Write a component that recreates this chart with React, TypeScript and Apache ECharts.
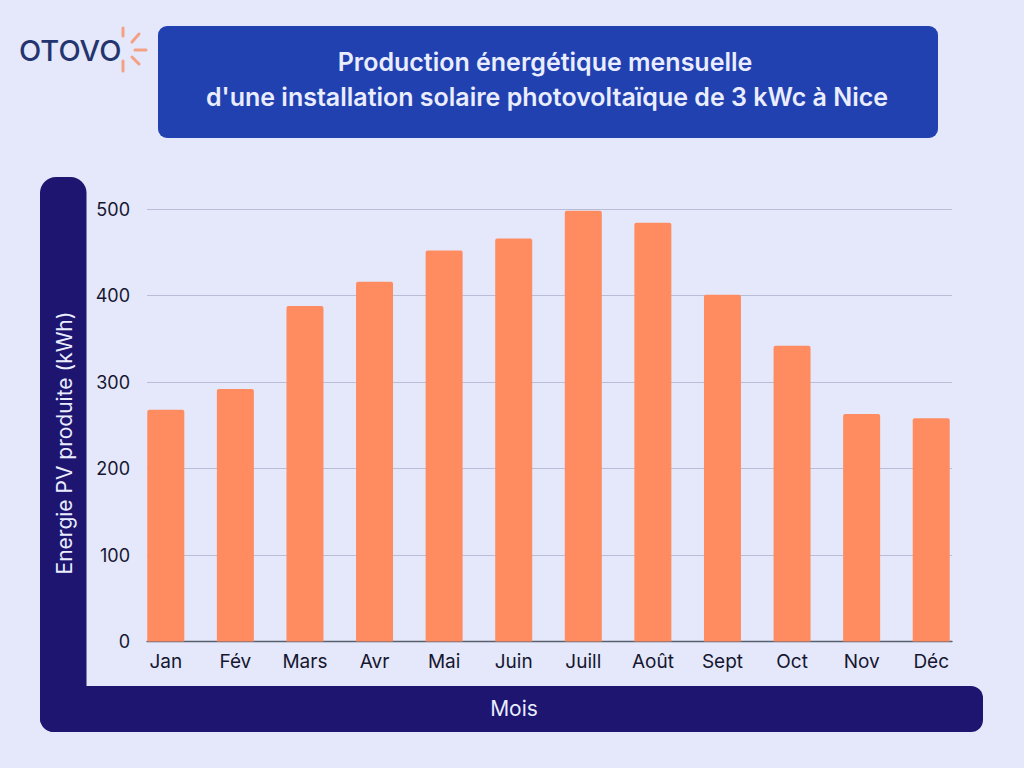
import React, { useEffect, useRef } from "react";
import * as echarts from "echarts";

const months = ["Jan", "Fév", "Mars", "Avr", "Mai", "Juin", "Juill", "Août", "Sept", "Oct", "Nov", "Déc"];
const production = [268, 292, 388, 416, 452, 466, 498, 484, 401, 342, 263, 258];
const yTicks = { min: 0, max: 500, interval: 100 };
const titleLine1 = "Production énergétique mensuelle";
const titleLine2 = "d'une installation solaire photovoltaïque de 3 kWc à Nice";
const yTitle = "Energie PV produite (kWh)";
const xTitle = "Mois";

const FONT = "Inter, 'Noto Sans', sans-serif";
const NAVY = "#1d1570";
const BAR = "#ff8c61";
const RAY = "#f3a085";

export default function App() {
  const ref = useRef<HTMLDivElement>(null);
  useEffect(() => {
    if (!ref.current) return;
    const chart = echarts.init(ref.current, undefined, { renderer: "svg" });
    const rayStyle = { stroke: RAY, lineWidth: 3, lineCap: "round" };
    chart.setOption({
      animation: false,
      backgroundColor: "#e4e8fa",
      textStyle: { fontFamily: FONT },
      grid: [
        { left: 131, right: 58, top: 209, bottom: 126.5 },
        { left: 147, right: 72, top: 209, bottom: 126.5 },
      ],
      xAxis: [
        {
          type: "category",
          gridIndex: 0,
          data: months,
          boundaryGap: true,
          axisLine: { show: false },
          axisTick: { show: false },
          axisLabel: { color: "#161630", fontSize: 19, margin: 10, fontFamily: FONT },
        },
        {
          type: "value",
          gridIndex: 1,
          min: 0,
          max: 1,
          axisLine: { show: true, lineStyle: { color: "#5a5f70", width: 1.3 } },
          axisTick: { show: false },
          axisLabel: { show: false },
          splitLine: { show: false },
        },
      ],
      yAxis: [
        {
          type: "value",
          gridIndex: 0,
          ...yTicks,
          axisLine: { show: false },
          axisTick: { show: false },
          axisLabel: { show: false },
          splitLine: { show: false },
        },
        {
          type: "value",
          gridIndex: 1,
          ...yTicks,
          axisLine: { show: false },
          axisTick: { show: false },
          axisLabel: { color: "#161630", fontSize: 18, margin: 17, fontFamily: FONT },
          splitLine: { show: true, lineStyle: { color: "#b9bdd6", width: 1.2 } },
        },
      ],
      series: [
        {
          type: "bar",
          xAxisIndex: 0,
          yAxisIndex: 0,
          data: production,
          barWidth: 37,
          itemStyle: { color: BAR, borderRadius: [2, 2, 0, 0] },
          z: 3,
        },
        {
          type: "line",
          xAxisIndex: 1,
          yAxisIndex: 1,
          data: [],
          silent: true,
        },
      ],
      graphic: [
        {
          type: "rect",
          shape: { x: 158, y: 26, width: 780, height: 112, r: 9 },
          style: { fill: "#2141b0" },
          z: 0,
        },
        {
          type: "text",
          x: 545,
          y: 62,
          style: {
            text: titleLine1,
            fill: "#e9edff",
            font: `600 25px ${FONT}`,
            textAlign: "center",
            textVerticalAlign: "middle",
          },
          z: 1,
        },
        {
          type: "text",
          x: 547,
          y: 97,
          style: {
            text: titleLine2,
            fill: "#e9edff",
            font: `600 25px ${FONT}`,
            textAlign: "center",
            textVerticalAlign: "middle",
          },
          z: 1,
        },
        {
          type: "rect",
          shape: { x: 40, y: 177, width: 46.5, height: 555, r: [16, 16, 0, 14] },
          style: { fill: NAVY },
          z: 0,
        },
        {
          type: "rect",
          shape: { x: 40, y: 686, width: 943, height: 46, r: [0, 12, 12, 14] },
          style: { fill: NAVY },
          z: 0,
        },
        {
          type: "text",
          x: 64,
          y: 443,
          rotation: Math.PI / 2,
          style: {
            text: yTitle,
            fill: "#e9edff",
            font: `400 21px ${FONT}`,
            textAlign: "center",
            textVerticalAlign: "middle",
          },
          z: 1,
        },
        {
          type: "text",
          x: 514,
          y: 708,
          style: {
            text: xTitle,
            fill: "#e9edff",
            font: `400 21px ${FONT}`,
            textAlign: "center",
            textVerticalAlign: "middle",
          },
          z: 1,
        },
        {
          type: "text",
          x: 19,
          y: 50,
          style: {
            text: "OTOVO",
            fill: "#23346f",
            font: `500 29px ${FONT}`,
            textAlign: "left",
            textVerticalAlign: "middle",
          },
          z: 1,
        },
        { type: "line", shape: { x1: 123, y1: 28, x2: 123, y2: 36 }, style: rayStyle, z: 1 },
        { type: "line", shape: { x1: 132, y1: 42, x2: 139, y2: 34 }, style: rayStyle, z: 1 },
        { type: "line", shape: { x1: 135, y1: 50, x2: 146, y2: 50 }, style: rayStyle, z: 1 },
        { type: "line", shape: { x1: 132, y1: 57, x2: 139, y2: 64 }, style: rayStyle, z: 1 },
        { type: "line", shape: { x1: 123, y1: 61, x2: 123, y2: 71 }, style: rayStyle, z: 1 },
      ],
    });
    return () => chart.dispose();
  }, []);
  return (
    <div
      ref={ref}
      style={{ position: "fixed", left: 0, top: 0, width: 1024, height: 768 }}
    />
  );
}
